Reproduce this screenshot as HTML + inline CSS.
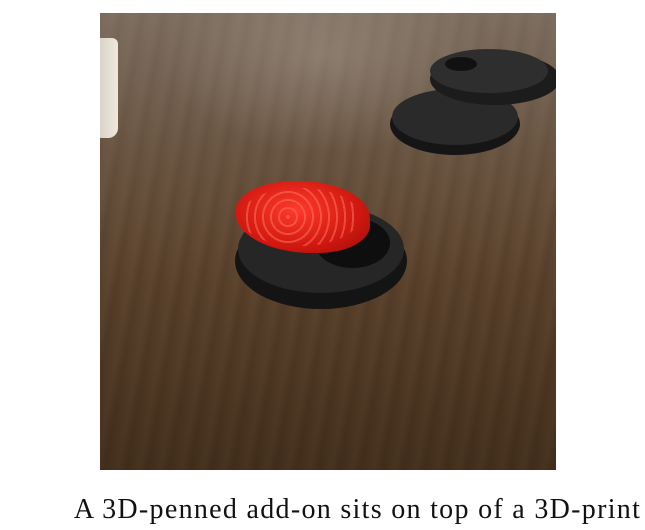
<!DOCTYPE html>
<html><head><meta charset="utf-8"><style>
html,body{margin:0;padding:0;background:#fff;width:645px;height:530px;overflow:hidden}
#photo{position:absolute;left:100px;top:13px;width:456px;height:457px;overflow:hidden;
background:
linear-gradient(180deg,rgba(150,140,130,0.35) 0%,rgba(120,105,90,0.15) 30%,rgba(0,0,0,0) 50%,rgba(0,0,0,0.15) 100%),
repeating-linear-gradient(100deg,rgba(0,0,0,0.06) 0px,rgba(0,0,0,0) 5px,rgba(255,220,180,0.03) 13px,rgba(0,0,0,0.05) 21px),
linear-gradient(180deg,#6e5c4c 0%,#66503c 30%,#5a412b 60%,#4e3620 100%);}
.abs{position:absolute}
#caption{position:absolute;left:70px;width:575px;top:494px;text-align:center;font-family:"Liberation Serif",serif;font-size:28px;letter-spacing:1.3px;color:#111;white-space:nowrap}
</style></head><body>
<div id="photo">
  <div class="abs" style="left:60px;top:0;width:330px;height:140px;background:radial-gradient(ellipse at 50% 30%,rgba(200,190,180,0.25),rgba(0,0,0,0) 70%)"></div>
  <div class="abs" style="left:-10px;top:25px;width:28px;height:100px;background:linear-gradient(90deg,#cfc8bc,#eee8dd);border-radius:0 6px 10px 0"></div>
  <div class="abs" style="left:290px;top:80px;width:130px;height:62px;border-radius:50%;background:#151515"></div>
  <div class="abs" style="left:292px;top:76px;width:126px;height:56px;border-radius:50%;background:#2a2a2a"></div>
  <div class="abs" style="left:330px;top:40px;width:130px;height:52px;border-radius:50%;background:#1c1c1c"></div>
  <div class="abs" style="left:330px;top:36px;width:118px;height:44px;border-radius:50%;background:#2e2e2e"></div>
  <div class="abs" style="left:345px;top:44px;width:32px;height:14px;border-radius:50%;background:#111"></div>
  <div class="abs" style="left:135px;top:200px;width:172px;height:96px;border-radius:50%;background:#141414"></div>
  <div class="abs" style="left:138px;top:192px;width:166px;height:88px;border-radius:50%;background:#262626"></div>
  <div class="abs" style="left:215px;top:205px;width:75px;height:50px;border-radius:50%;background:#0e0e0e"></div>
  <div class="abs" style="left:135px;top:168px;width:135px;height:72px;border-radius:45% 55% 40% 60%;background:radial-gradient(ellipse at 45% 40%,#ff3a2a,#d01810 60%,#9a0d08 100%)"></div>
  <div class="abs" style="left:140px;top:175px;width:120px;height:58px;border-radius:50%;background:repeating-radial-gradient(circle at 40% 50%,rgba(255,120,100,0.5) 0 2px,rgba(0,0,0,0) 2px 8px)"></div>
</div>
<div id="caption">A 3D-penned add-on sits on top of a 3D-print</div>
</body></html>
